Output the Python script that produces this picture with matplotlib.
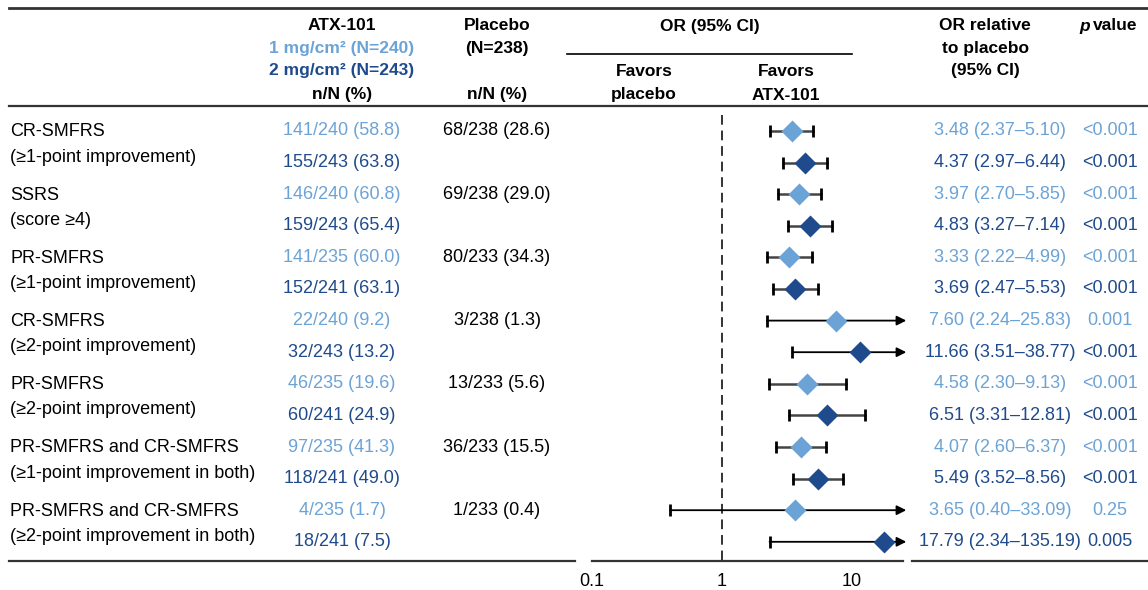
import matplotlib.pyplot as plt

plt.rcParams["font.family"] = ["Liberation Sans", "DejaVu Sans"]

# data
endpoints = [
    ("CR-SMFRS", "(≥1-point improvement)"),
    ("SSRS", "(score ≥4)"),
    ("PR-SMFRS", "(≥1-point improvement)"),
    ("CR-SMFRS", "(≥2-point improvement)"),
    ("PR-SMFRS", "(≥2-point improvement)"),
    ("PR-SMFRS and CR-SMFRS", "(≥1-point improvement in both)"),
    ("PR-SMFRS and CR-SMFRS", "(≥2-point improvement in both)"),
]
n_1mg = [141, 146, 141, 22, 46, 97, 4]
N_1mg = [240, 240, 235, 240, 235, 235, 235]
pct_1mg = [58.8, 60.8, 60.0, 9.2, 19.6, 41.3, 1.7]
n_2mg = [155, 159, 152, 32, 60, 118, 18]
N_2mg = [243, 243, 241, 243, 241, 241, 241]
pct_2mg = [63.8, 65.4, 63.1, 13.2, 24.9, 49.0, 7.5]
n_pbo = [68, 69, 80, 3, 13, 36, 1]
N_pbo = [238, 238, 233, 238, 233, 233, 233]
pct_pbo = [28.6, 29.0, 34.3, 1.3, 5.6, 15.5, 0.4]
or_1mg = [3.48, 3.97, 3.33, 7.60, 4.58, 4.07, 3.65]
lo_1mg = [2.37, 2.70, 2.22, 2.24, 2.30, 2.60, 0.40]
hi_1mg = [5.10, 5.85, 4.99, 25.83, 9.13, 6.37, 33.09]
p_1mg = ["<0.001", "<0.001", "<0.001", "0.001", "<0.001", "<0.001", "0.25"]
or_2mg = [4.37, 4.83, 3.69, 11.66, 6.51, 5.49, 17.79]
lo_2mg = [2.97, 3.27, 2.47, 3.51, 3.31, 3.52, 2.34]
hi_2mg = [6.44, 7.14, 5.53, 38.77, 12.81, 8.56, 135.19]
p_2mg = ["<0.001", "<0.001", "<0.001", "<0.001", "<0.001", "<0.001", "0.005"]
ticks = [0.1, 1, 10]

light = "#6ca3d6"
dark = "#1f4b8c"
W, H = 1148, 590
XMAX = 25

fig = plt.figure(figsize=(W / 100, H / 100), dpi=100)


def fx(x):
    return x / W


def fy(y):
    return 1 - y / H


def row_px(i):
    return 131 + 31.6 * i


def txt(x, y, s, **kw):
    kw.setdefault("fontsize", 13)
    kw.setdefault("ha", "center")
    kw.setdefault("va", "center")
    fig.text(fx(x), fy(y), s, **kw)


# rules
def rule(x0, x1, y, lw=1.6, color="#333333"):
    fig.add_artist(plt.Line2D([fx(x0), fx(x1)], [fy(y), fy(y)], color=color, lw=lw))


rule(9, W, 8, lw=2)
rule(9, W, 106)
rule(567, 852, 54, lw=1.2, color="black")
rule(9, 575, 561)
rule(912, W, 561)

# header
hb = dict(fontsize=12.5, fontweight="bold")
txt(342, 26, "ATX-101", **hb)
txt(342, 48, "1 mg/cm² (N=240)", color=light, **hb)
txt(342, 71, "2 mg/cm² (N=243)", color=dark, **hb)
txt(342, 95, "n/N (%)", **hb)
txt(497, 26, "Placebo", **hb)
txt(497, 48, "(N=238)", **hb)
txt(497, 95, "n/N (%)", **hb)
txt(710, 26, "OR (95% CI)", **hb)
txt(644, 71, "Favors", **hb)
txt(644, 95, "placebo", **hb)
txt(786, 71, "Favors", **hb)
txt(786, 95, "ATX-101", **hb)
txt(985, 26, "OR relative", **hb)
txt(985, 48, "to placebo", **hb)
txt(985, 71, "(95% CI)", **hb)
txt(1090, 26, "p", ha="right", style="italic", **hb)
txt(1093, 26, "value", ha="left", **hb)

# table rows
for k, (l1, l2) in enumerate(endpoints):
    ya = row_px(2 * k)
    yb = row_px(2 * k + 1)
    txt(10, ya + 1, l1, ha="left")
    txt(10, ya + 26, l2, ha="left")
    txt(342, ya, f"{n_1mg[k]}/{N_1mg[k]} ({pct_1mg[k]:.1f})", color=light)
    txt(342, yb, f"{n_2mg[k]}/{N_2mg[k]} ({pct_2mg[k]:.1f})", color=dark)
    txt(497, ya, f"{n_pbo[k]}/{N_pbo[k]} ({pct_pbo[k]:.1f})")
    txt(1000, ya, f"{or_1mg[k]:.2f} ({lo_1mg[k]:.2f}–{hi_1mg[k]:.2f})", color=light)
    txt(1000, yb, f"{or_2mg[k]:.2f} ({lo_2mg[k]:.2f}–{hi_2mg[k]:.2f})", color=dark)
    txt(1110, ya, p_1mg[k], color=light)
    txt(1110, yb, p_2mg[k], color=dark)

# forest plot
x0, x1, ytop, ybot = 592, 903, 110, 561
ax = fig.add_axes([fx(x0), fy(ybot), fx(x1 - x0), (ybot - ytop) / H])
ax.set_xscale("log")
ax.set_xlim(0.1, XMAX)
ax.set_ylim((ybot - 131) / 31.6, (ytop - 131) / 31.6)
for s in ["top", "right", "left"]:
    ax.spines[s].set_visible(False)
ax.spines["bottom"].set_color("#333333")
ax.spines["bottom"].set_linewidth(1.6)
ax.set_yticks([])
ax.set_xticks(ticks)
ax.set_xticklabels(["0.1", "1", "10"])
ax.xaxis.set_minor_locator(plt.NullLocator())
ax.tick_params(axis="x", length=0, labelsize=13, pad=9)
ax.vlines(1, -0.5, 13.7, color="#333333", lw=1.4, linestyles=(0, (5, 3)))

for k in range(len(endpoints)):
    for j, (o, lo, hi, c) in enumerate(
        [(or_1mg[k], lo_1mg[k], hi_1mg[k], light), (or_2mg[k], lo_2mg[k], hi_2mg[k], dark)]
    ):
        y = 2 * k + j
        if hi > XMAX:
            ax.annotate("", xy=(XMAX * 1.06, y), xytext=(lo, y), xycoords="data",
                        arrowprops=dict(arrowstyle="-|>", color="black", lw=1.3,
                                        mutation_scale=14, shrinkA=0, shrinkB=0),
                        annotation_clip=False)
            ax.plot([lo], [y], marker="|", color="black", ms=9, mew=2)
        else:
            ax.plot([lo, hi], [y, y], color="#444444", lw=1.8)
            ax.plot([lo, hi], [y, y], ls="none", marker="|", color="black", ms=9, mew=2)
        ax.plot([o], [y], marker="D", color=c, ms=11, mec="none", zorder=5, clip_on=False)

fig.savefig("out.png", dpi=100)
